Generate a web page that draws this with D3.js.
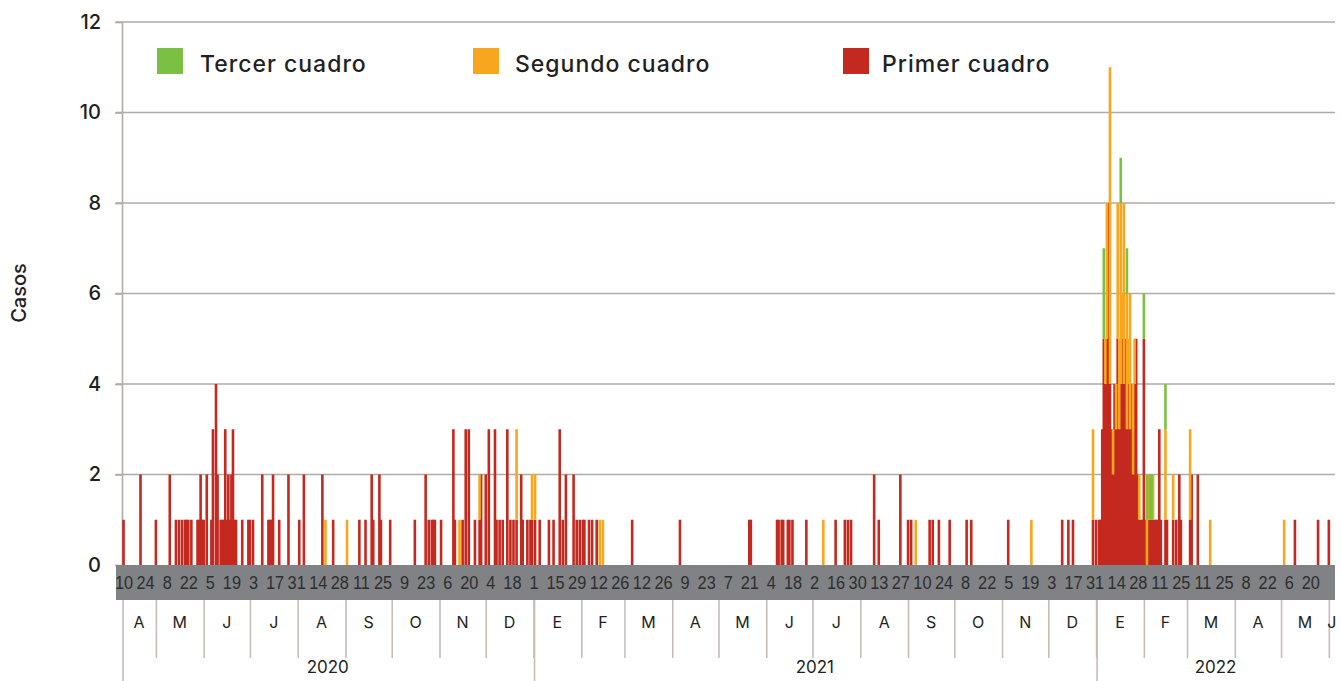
<!DOCTYPE html>
<html>
<head>
<meta charset="utf-8">
<script src="https://cdn.jsdelivr.net/npm/d3@7"></script>
<style>
  body { margin: 0; background: #fff; }
  svg { display: block; }
</style>
</head>
<body>
<div id="chart"></div>
<script>
// Casos diarios por cuadro (solo los dias con casos)
const fechas = [
  '2020-04-10','2020-04-21','2020-05-01','2020-05-10','2020-05-14','2020-05-16','2020-05-18','2020-05-20','2020-05-21','2020-05-22',
  '2020-05-24','2020-05-28','2020-05-29','2020-05-30','2020-05-31','2020-06-01','2020-06-03','2020-06-06','2020-06-07','2020-06-09',
  '2020-06-10','2020-06-12','2020-06-13','2020-06-14','2020-06-15','2020-06-16','2020-06-17','2020-06-18','2020-06-19','2020-06-20',
  '2020-06-21','2020-06-22','2020-06-26','2020-06-30','2020-07-01','2020-07-03','2020-07-09','2020-07-13','2020-07-14','2020-07-15',
  '2020-07-16','2020-07-20','2020-07-26','2020-08-02','2020-08-05','2020-08-17','2020-08-19','2020-08-24','2020-09-02','2020-09-10',
  '2020-09-14','2020-09-18','2020-09-19','2020-09-23','2020-09-24','2020-09-30','2020-10-16','2020-10-23','2020-10-25','2020-10-27',
  '2020-10-28','2020-10-29','2020-11-02','2020-11-10','2020-11-11','2020-11-14','2020-11-16','2020-11-18','2020-11-20','2020-11-24',
  '2020-11-27','2020-11-28','2020-12-01','2020-12-03','2020-12-07','2020-12-08','2020-12-10','2020-12-12','2020-12-15','2020-12-17',
  '2020-12-19','2020-12-21','2020-12-24','2020-12-25','2020-12-28','2020-12-30','2020-12-31',
  '2021-01-02','2021-01-05','2021-01-11','2021-01-14','2021-01-18','2021-01-20','2021-01-22','2021-01-27','2021-01-29','2021-01-31',
  '2021-02-02','2021-02-03','2021-02-06','2021-02-08','2021-02-11','2021-02-13','2021-02-15','2021-03-06','2021-04-06','2021-05-21',
  '2021-05-22','2021-06-08','2021-06-09','2021-06-11','2021-06-12','2021-06-15','2021-06-16','2021-06-18','2021-06-27','2021-07-08',
  '2021-07-16','2021-07-22','2021-07-24','2021-07-26','2021-08-10','2021-08-13','2021-08-27','2021-09-01','2021-09-03','2021-09-06',
  '2021-09-15','2021-09-17','2021-09-21','2021-09-28','2021-10-09','2021-10-12','2021-11-05','2021-11-20','2021-12-10','2021-12-14',
  '2021-12-17','2021-12-30',
  '2022-01-01','2022-01-03','2022-01-04','2022-01-05','2022-01-06','2022-01-07','2022-01-08','2022-01-09','2022-01-10','2022-01-11',
  '2022-01-12','2022-01-13','2022-01-14','2022-01-15','2022-01-16','2022-01-17','2022-01-18','2022-01-19','2022-01-20','2022-01-21',
  '2022-01-22','2022-01-23','2022-01-24','2022-01-25','2022-01-26','2022-01-27','2022-01-28','2022-01-29','2022-01-30','2022-01-31',
  '2022-02-01','2022-02-02','2022-02-03','2022-02-04','2022-02-05','2022-02-06','2022-02-07','2022-02-08','2022-02-09','2022-02-10',
  '2022-02-11','2022-02-12','2022-02-15','2022-02-16','2022-02-20','2022-02-22','2022-02-24','2022-02-25','2022-03-03','2022-03-04',
  '2022-03-08','2022-03-16','2022-05-03','2022-05-10','2022-05-25','2022-06-01'
];

const primer = [
  1,2,1,2,1,1,1,1,1,1,
  1,1,1,2,1,1,2,1,3,4,
  2,1,1,1,3,1,2,1,2,3,
  1,1,1,1,1,1,2,1,1,1,
  2,1,2,1,2,2,0,1,0,1,
  1,2,1,2,1,1,1,2,1,1,
  1,1,1,3,1,0,1,3,3,1,
  1,2,2,3,3,1,1,1,3,1,
  1,1,2,1,1,1,1,
  1,1,1,1,3,1,2,2,1,1,
  1,1,1,1,1,0,0,1,1,1,
  1,1,1,1,1,1,1,1,1,0,
  1,1,1,1,2,1,2,1,1,0,
  1,1,1,1,1,1,1,0,1,1,
  1,1,
  1,1,1,3,5,4,5,8,4,3,
  2,4,3,5,3,4,5,4,5,3,
  4,3,4,2,4,5,2,1,1,1,
  5,1,0,1,1,1,1,1,1,1,
  3,1,1,1,1,1,2,1,1,2,
  2,0,0,1,1,1
];

const segundo = [
  0,0,0,0,0,0,0,0,0,0,
  0,0,0,0,0,0,0,0,0,0,
  0,0,0,0,0,0,0,0,0,0,
  0,0,0,0,0,0,0,0,0,0,
  0,0,0,0,0,0,1,0,1,0,
  0,0,0,0,0,0,0,0,0,0,
  0,0,0,0,0,1,0,0,0,0,
  1,0,0,0,0,0,0,0,0,0,
  0,2,0,0,0,0,1,
  1,0,0,0,0,0,0,0,0,0,
  0,0,0,0,0,1,1,0,0,0,
  0,0,0,0,0,0,0,0,0,1,
  0,0,0,0,0,0,0,0,0,1,
  0,0,0,0,0,0,0,1,0,0,
  0,2,
  0,0,0,0,0,1,3,0,7,0,
  1,0,1,3,2,4,1,4,0,3,
  1,3,0,2,1,0,0,1,0,0,
  0,0,1,1,0,0,1,0,0,0,
  0,0,2,0,1,0,0,0,2,0,
  0,1,1,0,0,0
];

const tercer = [
  0,0,0,0,0,0,0,0,0,0,
  0,0,0,0,0,0,0,0,0,0,
  0,0,0,0,0,0,0,0,0,0,
  0,0,0,0,0,0,0,0,0,0,
  0,0,0,0,0,0,0,0,0,0,
  0,0,0,0,0,0,0,0,0,0,
  0,0,0,0,0,0,0,0,0,0,
  0,0,0,0,0,0,0,0,0,0,
  0,0,0,0,0,0,0,
  0,0,0,0,0,0,0,0,0,0,
  0,0,0,0,0,0,0,0,0,0,
  0,0,0,0,0,0,0,0,0,0,
  0,0,0,0,0,0,0,0,0,0,
  0,0,0,0,0,0,0,0,0,0,
  0,0,
  0,0,0,0,2,0,0,0,0,0,
  0,0,0,0,0,1,0,0,0,1,
  0,0,0,0,0,0,0,0,0,0,
  1,0,1,0,1,1,0,0,0,0,
  0,0,1,0,0,0,0,0,0,0,
  0,0,0,0,0,0
];

const yTicks = [0, 2, 4, 6, 8, 10, 12];
const mesesLetra = ['E', 'F', 'M', 'A', 'M', 'J', 'J', 'A', 'S', 'O', 'N', 'D'];
const primeraEtiquetaDia = '2020-04-10';
const ultimaEtiquetaDia = '2022-05-21';

const series = [
  { key: 'primer', name: 'Primer cuadro', color: '#c4291f' },
  { key: 'segundo', name: 'Segundo cuadro', color: '#f8a61d' },
  { key: 'tercer', name: 'Tercer cuadro', color: '#7bc043' }
];

const W = 1341, H = 681;
const plotLeft = 122, plotRight = 1335, plotTop = 22, plotBase = 565;
const font = 'Inter, "Noto Sans", sans-serif';

const parse = d3.timeParse('%Y-%m-%d');
const rows = fechas.map((f, i) => ({
  date: parse(f), primer: primer[i], segundo: segundo[i], tercer: tercer[i]
}));

const svg = d3.select('#chart').append('svg')
  .attr('width', W)
  .attr('height', H);

const x = d3.scaleTime()
  .domain([new Date(2020, 3, 9), new Date(2022, 5, 5)])
  .range([plotLeft, plotRight]);

const y = d3.scaleLinear()
  .domain([0, 12])
  .range([plotBase, plotTop]);

// grid
svg.append('g')
  .selectAll('line')
  .data(yTicks.filter(d => d > 0))
  .enter().append('line')
  .attr('x1', plotLeft - 6).attr('x2', plotRight)
  .attr('y1', d => y(d)).attr('y2', d => y(d))
  .attr('stroke', '#b3a9a7')
  .attr('stroke-width', 1.6);

// Y axis
const yAxis = svg.append('g')
  .attr('transform', `translate(${plotLeft},0)`)
  .call(d3.axisLeft(y).tickValues(yTicks).tickSize(7).tickPadding(14).tickSizeOuter(0));
yAxis.select('.domain').attr('stroke', '#b3a9a7').attr('stroke-width', 1.6);
yAxis.selectAll('line').attr('stroke', '#b3a9a7').attr('stroke-width', 1.6);
yAxis.selectAll('text')
  .attr('fill', '#231f20')
  .style('font-family', font)
  .style('font-size', '20px')
  .style('font-weight', 500);

svg.append('text')
  .attr('transform', 'translate(26,293) rotate(-90)')
  .attr('text-anchor', 'middle')
  .attr('fill', '#231f20')
  .style('font-family', font)
  .style('font-size', '20px')
  .style('font-weight', 500)
  .text('Casos');

// stacked bars
const stack = d3.stack().keys(series.map(s => s.key));
const stacked = stack(rows);
const bw = 2.6;

svg.append('g')
  .selectAll('g')
  .data(stacked)
  .enter().append('g')
  .attr('fill', (d, i) => series[i].color)
  .selectAll('rect')
  .data(d => d.filter(p => p[1] > p[0]))
  .enter().append('rect')
  .attr('x', d => x(d.data.date) - bw / 2)
  .attr('width', bw)
  .attr('y', d => y(d[1]))
  .attr('height', d => y(d[0]) - y(d[1]));

// gray day band
const bandTop = plotBase, bandBottom = 600;
svg.append('rect')
  .attr('x', 116).attr('y', bandTop)
  .attr('width', plotRight - 116).attr('height', bandBottom - bandTop)
  .attr('fill', '#808285');

const dayTicks = d3.timeDay.range(parse(primeraEtiquetaDia), parse(ultimaEtiquetaDia), 14);
const dayAxis = svg.append('g')
  .attr('transform', `translate(0,${bandTop})`)
  .call(d3.axisBottom(x).tickValues(dayTicks).tickFormat(d3.timeFormat('%-d')).tickSize(0).tickPadding(11));
dayAxis.select('.domain').remove();
// narrow labels: squeeze horizontally around each tick
dayAxis.selectAll('text')
  .attr('fill', '#2e2e2e')
  .attr('transform', 'scale(0.86,1)')
  .style('font-family', '"Liberation Sans", Arial, sans-serif')
  .style('font-size', '19px');

// month band
const monthStarts = d3.timeMonth.range(new Date(2020, 4, 1), new Date(2022, 6, 1))
  .filter(d => x(d) <= plotRight);
const monthAxis = svg.append('g')
  .attr('transform', `translate(0,${bandBottom})`)
  .call(d3.axisBottom(x).tickValues(monthStarts).tickFormat('').tickSize(58));
monthAxis.select('.domain').remove();
monthAxis.selectAll('line').attr('stroke', '#c6bcba').attr('stroke-width', 1.6);

const months = d3.timeMonth.range(new Date(2020, 3, 1), new Date(2022, 5, 1));
months.push(new Date(2022, 5, 1));
svg.append('g')
  .selectAll('text')
  .data(months)
  .enter().append('text')
  .attr('x', d => {
    const a = Math.max(x(d), plotLeft);
    const b = Math.min(x(d3.timeMonth.offset(d, 1)), plotRight);
    return (a + b) / 2;
  })
  .attr('y', 628)
  .attr('text-anchor', 'middle')
  .attr('fill', '#231f20')
  .style('font-family', font)
  .style('font-size', '16px')
  .text(d => mesesLetra[d.getMonth()]);

// year band
const yearStarts = [new Date(2020, 3, 9), new Date(2021, 0, 1), new Date(2022, 0, 1)];
svg.append('g')
  .selectAll('line')
  .data(yearStarts)
  .enter().append('line')
  .attr('x1', d => x(d) + 1).attr('x2', d => x(d) + 1)
  .attr('y1', bandBottom).attr('y2', H)
  .attr('stroke', '#c6bcba')
  .attr('stroke-width', 1.6);

svg.append('g')
  .selectAll('text')
  .data(yearStarts)
  .enter().append('text')
  .attr('x', (d, i) => {
    const b = i < yearStarts.length - 1 ? x(yearStarts[i + 1]) : plotRight;
    return (x(d) + b) / 2;
  })
  .attr('y', 673)
  .attr('text-anchor', 'middle')
  .attr('fill', '#231f20')
  .style('font-family', font)
  .style('font-size', '17px')
  .text(d => d3.timeFormat('%Y')(d3.timeDay.offset(d, 30)));

// legend
const legend = [
  { s: series[2], x: 157, dx: 43 },
  { s: series[1], x: 473, dx: 42 },
  { s: series[0], x: 843, dx: 39 }
];
const lg = svg.append('g')
  .selectAll('g')
  .data(legend)
  .enter().append('g')
  .attr('transform', d => `translate(${d.x},48)`);
lg.append('rect')
  .attr('width', 26).attr('height', 26)
  .attr('fill', d => d.s.color);
lg.append('text')
  .attr('x', d => d.dx).attr('y', 24)
  .attr('fill', '#231f20')
  .style('font-family', font)
  .style('font-size', '23px')
  .style('font-weight', 500)
  .style('letter-spacing', '1px')
  .text(d => d.s.name);
</script>
</body>
</html>
